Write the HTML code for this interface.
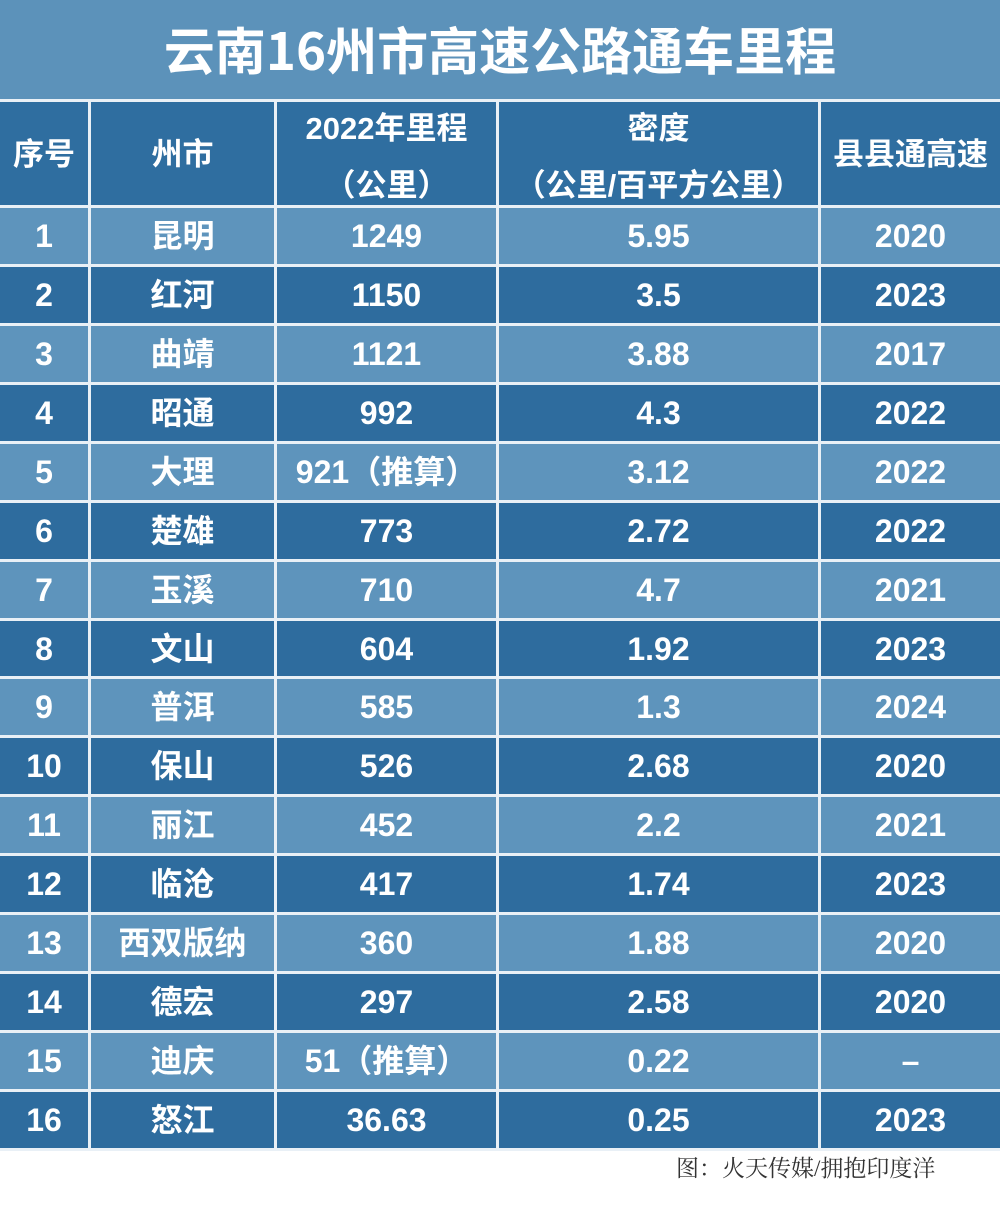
<!DOCTYPE html>
<html>
<head>
<meta charset="utf-8">
<style>
html,body{margin:0;padding:0;}
body{width:1000px;height:1216px;position:relative;background:#ffffff;overflow:hidden;
font-family:"Liberation Sans","Noto Sans CJK SC",sans-serif;}
.title{position:absolute;left:0;top:0;width:1000px;height:99px;background:#5c92ba;
color:#fff;font-weight:700;font-size:51px;line-height:96px;text-align:center;letter-spacing:0px;
font-family:"Noto Sans CJK SC",sans-serif;}
.grid{position:absolute;left:0;top:99px;width:1000px;height:1052px;background:#e9f0f6;}
.c{position:absolute;color:#fff;font-weight:700;font-size:32px;line-height:1;display:flex;align-items:center;justify-content:center;text-align:center;white-space:nowrap;}
.h{background:#2f6ea0;flex-direction:column;line-height:57px;font-size:31px;box-sizing:border-box;padding-top:6px;}
.l{background:#5e94bc;}
.d{background:#2e6c9e;}
.cap{position:absolute;left:676px;top:1153px;font-family:"Liberation Serif","Noto Serif CJK SC",serif;font-size:23px;color:#333;white-space:nowrap;line-height:32px;}
</style>
</head>
<body>
<div class="title">云南16州市高速公路通车里程</div>
<div class="grid"></div>
<div id="t"></div>
<div class="cap">图：火天传媒/拥抱印度洋</div>
<script>
(function(){
var cols=[[0,88],[91,274],[277,496],[499,818],[821,1000]];
var heads=[["序号"],["州市"],["2022年里程","（公里）"],["密度","（公里/百平方公里）"],["县县通高速"]];
var data=[
["1","昆明","1249","5.95","2020"],
["2","红河","1150","3.5","2023"],
["3","曲靖","1121","3.88","2017"],
["4","昭通","992","4.3","2022"],
["5","大理","921（推算）","3.12","2022"],
["6","楚雄","773","2.72","2022"],
["7","玉溪","710","4.7","2021"],
["8","文山","604","1.92","2023"],
["9","普洱","585","1.3","2024"],
["10","保山","526","2.68","2020"],
["11","丽江","452","2.2","2021"],
["12","临沧","417","1.74","2023"],
["13","西双版纳","360","1.88","2020"],
["14","德宏","297","2.58","2020"],
["15","迪庆","51（推算）","0.22","–"],
["16","怒江","36.63","0.25","2023"]];
var html="";
for(var j=0;j<5;j++){
  var x=cols[j][0],w=cols[j][1]-cols[j][0];
  var inner=heads[j].map(function(s){return "<div>"+s+"</div>";}).join("");
  var pad=(heads[j].length==1)?"padding-top:2px;":"";
  html+='<div class="c h" style="'+pad+'left:'+x+'px;top:102px;width:'+w+'px;height:103px;">'+inner+'</div>';
}
for(var i=0;i<16;i++){
  var top=Math.round(208+58.93*i);
  var bot=Math.round(208+58.93*(i+1))-3;
  var cls=(i%2==0)?"l":"d";
  for(var j=0;j<5;j++){
    var x=cols[j][0],w=cols[j][1]-cols[j][0];
    html+='<div class="c '+cls+'" style="left:'+x+'px;top:'+top+'px;width:'+w+'px;height:'+(bot-top)+'px;"><span>'+data[i][j]+'</span></div>';
  }
}
document.getElementById("t").innerHTML=html;
})();
</script>
</body>
</html>
